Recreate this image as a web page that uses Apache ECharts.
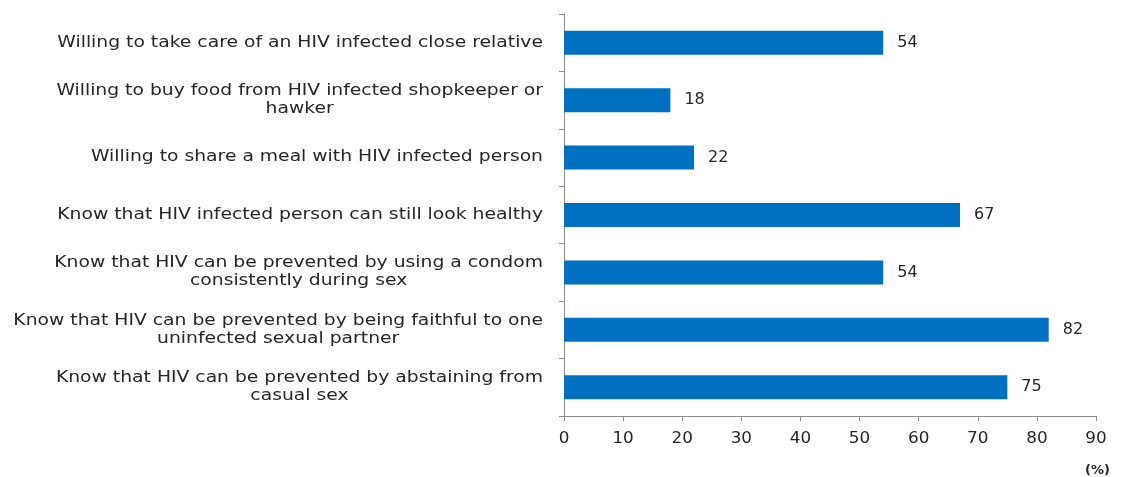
<!DOCTYPE html>
<html>
<head>
<meta charset="utf-8">
<script src="https://cdn.jsdelivr.net/npm/echarts@6/dist/echarts.min.js"></script>
<style>html,body{margin:0;padding:0;background:#fff}#c{width:1123px;height:477px}</style>
</head>
<body>
<div id="c"></div>
<script>
const categories = [
  "Willing to take care of an HIV infected close relative",
  "Willing to buy food from HIV infected shopkeeper or\nhawker",
  "Willing to share a meal with HIV infected person",
  "Know that HIV infected person can still look healthy",
  "Know that HIV can be prevented by using a condom\nconsistently during sex",
  "Know that HIV can be prevented by being faithful to one\nuninfected sexual partner",
  "Know that HIV can be prevented by abstaining from\ncasual sex"
];
const values = [54, 18, 22, 67, 54, 82, 75];
const xTicks = [0, 10, 20, 30, 40, 50, 60, 70, 80, 90];
const unitLabel = "(%)";

const FONT = "DejaVu Sans";
const chart = echarts.init(document.getElementById('c'), null, {renderer: 'canvas'});
chart.setOption({
  animation: false,
  backgroundColor: '#fff',
  textStyle: {fontFamily: FONT},
  grid: {left: 564, right: 27, top: 14, bottom: 61, containLabel: false},
  xAxis: {
    type: 'value',
    min: xTicks[0],
    max: xTicks[xTicks.length - 1],
    interval: xTicks[1] - xTicks[0],
    axisLine: {show: true, lineStyle: {color: '#8c8c8c', width: 1}},
    axisTick: {show: true, length: 5, lineStyle: {color: '#8c8c8c'}},
    splitLine: {show: false},
    axisLabel: {color: '#262626', fontSize: 15, fontFamily: FONT, margin: 16}
  },
  yAxis: {
    type: 'category',
    inverse: true,
    data: categories,
    axisLine: {show: true, lineStyle: {color: '#8c8c8c', width: 1}},
    axisTick: {show: true, length: 5, lineStyle: {color: '#8c8c8c'}},
    axisLabel: {
      color: '#262626', fontSize: 15, fontFamily: FONT, margin: 21, align: 'right',
      lineHeight: 18,
      formatter: function (v) {
        return v.split('\n').map(function (s) { return '{a|' + s + '}'; }).join('\n');
      },
      rich: {a: {align: 'center', fontSize: 15, fontFamily: FONT, color: '#262626', lineHeight: 18}}
    }
  },
  series: [{
    type: 'bar',
    data: values,
    barWidth: 24,
    itemStyle: {color: '#0070C0'},
    label: {show: true, position: 'right', distance: 14, color: '#262626', fontSize: 16, fontFamily: FONT}
  }],
  graphic: [{
    type: 'text',
    right: 13,
    top: 464,
    style: {text: unitLabel, fontSize: 13, fontWeight: 'bold', fill: '#262626', fontFamily: FONT}
  }]
});

// Widen the axis label text horizontally to match the reference's stretched font.
(function () {
  try {
    const tickStrings = xTicks.map(String);
    const zr = chart.getZr();
    zr.storage.getRoots().forEach(function (root) {
      root.traverse(function (el) {
        if (el.type !== 'text' || !el.style || typeof el.style.text !== 'string') return;
        let s = 0;
        if (el.style.text.indexOf('{a|') === 0) s = 1.25;
        else if (!el.__hostTarget && tickStrings.indexOf(el.style.text) >= 0) s = 1.12;
        if (s) {
          el.originX = 0;
          el.originY = 0;
          el.scaleX = s;
          el.markRedraw();
        }
      });
    });
    zr.refresh();
  } catch (e) { /* keep the unscaled chart */ }
})();
</script>
</body>
</html>
